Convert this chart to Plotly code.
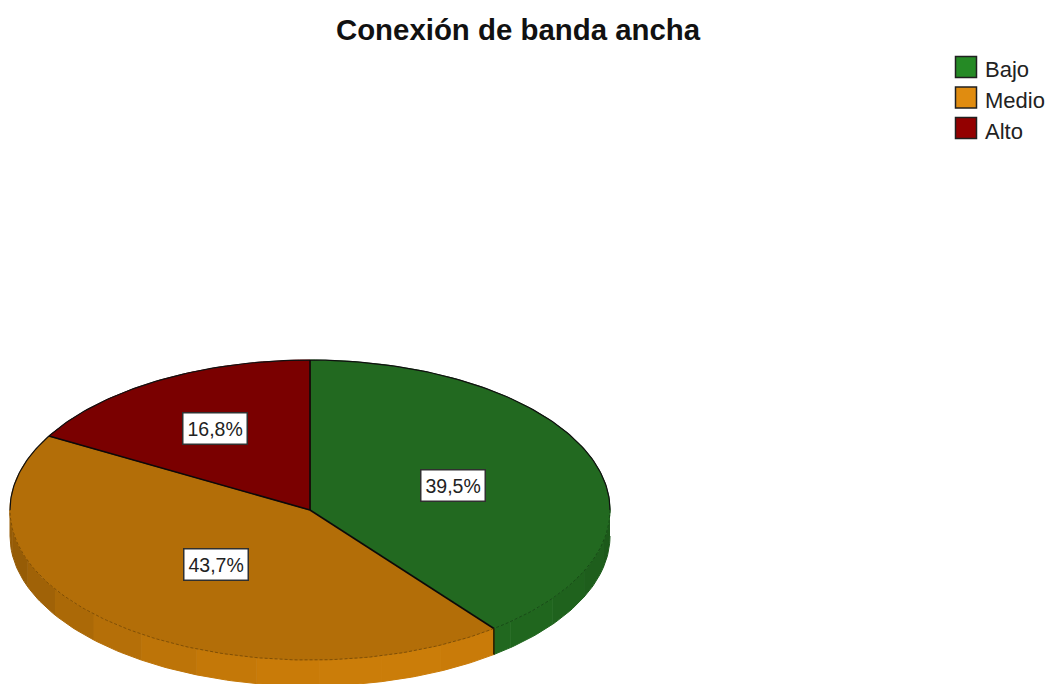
import math
import plotly.graph_objects as go

# Data
categories = ["Bajo", "Medio", "Alto"]
percentages = [39.5, 43.7, 16.8]
percent_labels = ["39,5%", "43,7%", "16,8%"]

# Colours
top_colors = [(34, 105, 32), (179, 110, 8), (122, 0, 0)]
wall_colors = [(30, 94, 28), (179, 110, 8), (122, 0, 0)]
legend_colors = ["#258a25", "#e08c10", "#930000"]

# Geometry of the tilted pie, in page pixels
CX, CY = 310, 510
RX, RY = 300, 150
DEPTH = 26
LABEL_R = [0.505, 0.48, 0.63]
FONT = "Liberation Sans"


def point(deg, frac=1.0, drop=0):
    a = math.radians(deg)
    return CX + RX * frac * math.sin(a), CY - RY * frac * math.cos(a) + drop


def arc(start, end, drop=0, step=1.0):
    n = max(2, int(abs(end - start) / step) + 1)
    pts = [point(start + (end - start) * i / (n - 1), drop=drop) for i in range(n)]
    return [p[0] for p in pts], [p[1] for p in pts]


def shade(rgb, deg):
    # side wall is brightest facing the lower left, darker towards the edges
    f = 0.84 + 0.30 * max(math.cos(math.radians(deg - 165)), 0)
    return "rgb(%d,%d,%d)" % tuple(min(255, int(c * f)) for c in rgb)


def poly(fig, xs, ys, fill):
    fig.add_trace(go.Scatter(x=xs, y=ys, mode="lines", fill="toself", fillcolor=fill,
                             line=dict(color=fill, width=1), hoverinfo="skip"))


fig = go.Figure()

# slice limits in degrees, clockwise from 12 o'clock
limits = [0]
for p in percentages:
    limits.append(limits[-1] + p * 3.6)

# side wall, only the front half of the disc is visible
BAND = 12
for i in range(len(categories)):
    a0, a1 = max(limits[i], 90), min(limits[i + 1], 270)
    deg = a0
    while deg < a1:
        nxt = min(deg + BAND, a1)
        x1, y1 = arc(deg, nxt)
        x2, y2 = arc(nxt, deg, drop=DEPTH)
        poly(fig, x1 + x2, y1 + y2, shade(wall_colors[i], (deg + nxt) / 2))
        deg = nxt

# top faces
for i in range(len(categories)):
    xs, ys = arc(limits[i], limits[i + 1])
    rgb = "rgb(%d,%d,%d)" % top_colors[i]
    poly(fig, [CX] + xs + [CX], [CY] + ys + [CY], rgb)

# fine dotted edge along the front of the top faces
for i in range(2):
    xs, ys = arc(max(limits[i], 90), min(limits[i + 1], 270))
    dark = "rgb(%d,%d,%d)" % tuple(int(c * 0.72) for c in top_colors[i])
    fig.add_trace(go.Scatter(x=xs, y=ys, mode="lines", line=dict(color=dark, width=1, dash="3px,2px"),
                             hoverinfo="skip"))

# outline of the back half and the spokes
xs, ys = arc(-90, 90)
fig.add_trace(go.Scatter(x=xs, y=ys, mode="lines", line=dict(color="#101010", width=1.2), hoverinfo="skip"))
for deg in limits[:-1]:
    ex, ey = point(deg)
    fig.add_trace(go.Scatter(x=[CX, ex], y=[CY, ey], mode="lines",
                             line=dict(color="#0a0a0a", width=1.6), hoverinfo="skip"))

# seam on the front of the wall between the slices
ex, ey = point(limits[1])
fig.add_trace(go.Scatter(x=[ex, ex], y=[ey, ey + DEPTH], mode="lines",
                         line=dict(color="#2a2000", width=1.6), hoverinfo="skip"))

# legend, swatches as square markers with their own labels
legend_x = 966
legend_y = [67, 97.5, 128]
legend_text_y = [69, 100, 131]
fig.add_trace(go.Scatter(
    x=[legend_x] * 3, y=legend_y, mode="markers",
    marker=dict(symbol="square", size=21, color=legend_colors, line=dict(color="#202020", width=1.5)),
    cliponaxis=False, hoverinfo="skip"))
for name, ty in zip(categories, legend_text_y):
    fig.add_annotation(x=983, y=ty, xref="x", yref="y", text=name, showarrow=False, xanchor="left",
                       font=dict(family=FONT, size=22, color="#222222"))

# percentage labels
for i, txt in enumerate(percent_labels):
    mid = (limits[i] + limits[i + 1]) / 2
    lx, ly = point(mid, LABEL_R[i])
    fig.add_annotation(x=lx, y=ly, xref="x", yref="y", text=txt, showarrow=False,
                       font=dict(family=FONT, size=19.5, color="#222222"),
                       bgcolor="white", bordercolor="#303030", borderwidth=1.5, borderpad=4)

fig.update_layout(
    title=dict(text="<b>Conexión de banda ancha</b>", x=518 / 1050, xanchor="center", y=1 - 30 / 684,
               yanchor="middle", font=dict(family=FONT, size=29.4, color="#111111")),
    width=1050,
    height=684,
    margin=dict(l=0, r=0, t=0, b=0),
    showlegend=False,
    paper_bgcolor="white",
    plot_bgcolor="white",
    xaxis=dict(range=[0, 1050], visible=False, fixedrange=True),
    yaxis=dict(range=[684, 0], visible=False, fixedrange=True),
)

# the page's default body margin would push the figure 8px off
fig.write_html("out.html", config={"displayModeBar": False}, post_script="document.body.style.margin='0'")
